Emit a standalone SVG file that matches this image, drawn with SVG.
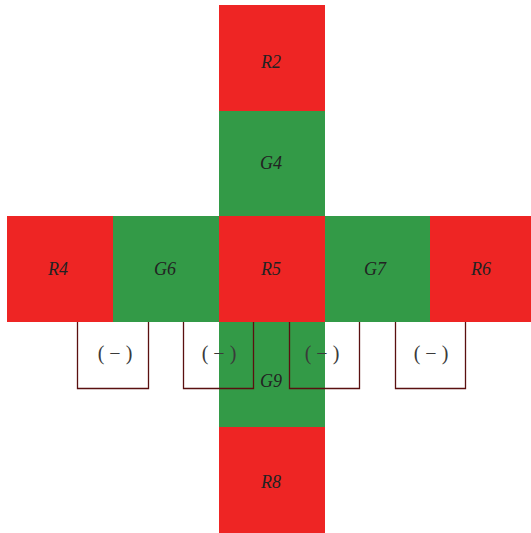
<svg xmlns="http://www.w3.org/2000/svg" width="531" height="533" viewBox="0 0 531 533">
<style>
.r{fill:#ee2524}
.g{fill:#339a47}
.lbl{font-family:"Liberation Serif",serif;font-style:italic;font-size:18px;fill:#222;text-anchor:middle;dominant-baseline:central}
.br{fill:none;stroke:#5a1010;stroke-width:1.3}
.neg{font-family:"Liberation Serif",serif;font-size:20px;fill:#3a3a3a;text-anchor:middle;dominant-baseline:central}
</style>
<rect width="531" height="533" fill="#fff"/>
<g id="R2"><rect class="r" x="219" y="5" width="106" height="106"/><text class="lbl" x="271" y="62">R2</text></g>
<g id="G4"><rect class="g" x="219" y="111" width="106" height="105"/><text class="lbl" x="271" y="163">G4</text></g>
<g id="R4"><rect class="r" x="7" y="216" width="106" height="106"/><text class="lbl" x="58" y="269">R4</text></g>
<g id="G6"><rect class="g" x="113" y="216" width="106" height="106"/><text class="lbl" x="165" y="269">G6</text></g>
<g id="R5"><rect class="r" x="219" y="216" width="106" height="106"/><text class="lbl" x="271" y="269">R5</text></g>
<g id="G7"><rect class="g" x="325" y="216" width="105" height="106"/><text class="lbl" x="375" y="269">G7</text></g>
<g id="R6"><rect class="r" x="430" y="216" width="101" height="106"/><text class="lbl" x="481" y="269">R6</text></g>
<g id="G9"><rect class="g" x="219" y="322" width="106" height="105"/><text class="lbl" x="271" y="381">G9</text></g>
<g id="R8"><rect class="r" x="219" y="427" width="106" height="106"/><text class="lbl" x="271" y="482">R8</text></g>
<g id="connectors">
<path class="br" d="M77.5,322 V388.5 H148.5 V322"/>
<path class="br" d="M183.5,322 V388.5 H253.5 V322"/>
<path class="br" d="M289.5,322 V388.5 H359.5 V322"/>
<path class="br" d="M395.5,322 V388.5 H465.5 V322"/>
<text class="neg" x="115" y="353">( − )</text>
<text class="neg" x="219" y="353">( − )</text>
<text class="neg" x="322" y="353">( − )</text>
<text class="neg" x="431" y="353">( − )</text>
</g>
</svg>
